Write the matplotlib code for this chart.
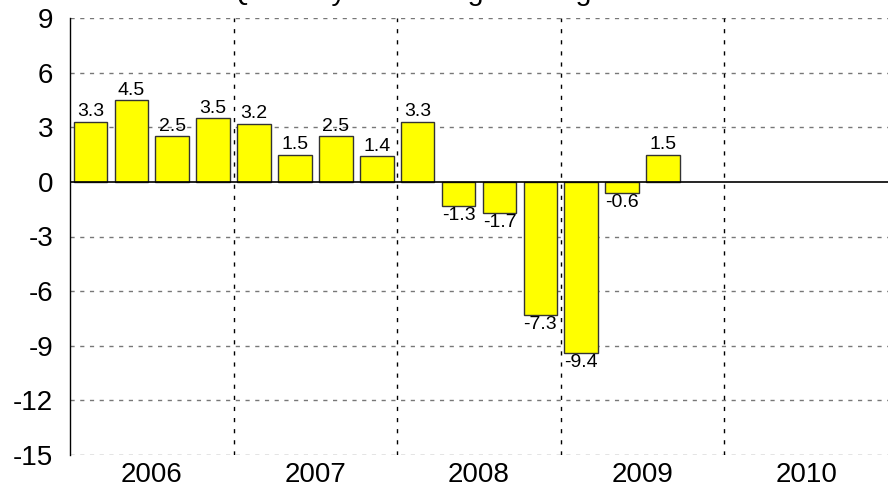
import matplotlib
matplotlib.use("Agg")
import matplotlib.pyplot as plt
import numpy as np

plt.rcParams['font.family'] = ['Liberation Sans', 'DejaVu Sans']

years = ["2006", "2007", "2008", "2009", "2010"]
values = [3.3, 4.5, 2.5, 3.5, 3.2, 1.5, 2.5, 1.4, 3.3, -1.3, -1.7, -7.3, -9.4, -0.6, 1.5]
labels = ["3.3", "4.5", "2.5", "3.5", "3.2", "1.5", "2.5", "1.4", "3.3",
          "-1.3", "-1.7", "-7.3", "-9.4", "-0.6", "1.5"]
yticks = [9, 6, 3, 0, -3, -6, -9, -12, -15]
title = "Annualized Quarterly Percentage Change"

fig = plt.figure(figsize=(8.88, 4.92), dpi=100)
ax = fig.add_axes([70/888, 1 - 455/492, 818/888, 437/492])

x = np.arange(len(values)) + 0.5
ax.bar(x, values, width=0.82, color='#ffff00', edgecolor='#333333', linewidth=1.0, zorder=3)

for xi, v, lab in zip(x, values, labels):
    if v >= 0:
        ax.annotate(lab, (xi, v), xytext=(0, 1), textcoords='offset points',
                    ha='center', va='bottom', fontsize=14, zorder=4)
    else:
        ax.annotate(lab, (xi, v), xytext=(0, -1), textcoords='offset points',
                    ha='center', va='top', fontsize=14, zorder=4)

ax.set_xlim(0, 20)
ax.set_ylim(-15, 9)
ax.set_yticks(yticks)
ax.set_yticklabels([str(t) for t in yticks], fontsize=20)
ax.set_xticks([2 + 4*i for i in range(len(years))])
ax.set_xticklabels(years, fontsize=20)
ax.tick_params(axis='x', length=0, pad=5)
ax.tick_params(axis='y', length=0, pad=12)

for t in yticks:
    if t != 0:
        ax.axhline(t, color='#777777', linestyle=(0, (3, 4)), linewidth=1.0, zorder=1)
for b in range(1, 5):
    ax.axvline(4*b, color='black', linestyle=(0, (3, 5)), linewidth=1.0, zorder=1)
ax.axhline(0, color='black', linewidth=1.2, zorder=4)

for s in ['top', 'right', 'bottom']:
    ax.spines[s].set_visible(False)
ax.spines['left'].set_linewidth(1.0)

fig.text(80/888, 1 - 0.5/492, title, fontsize=20.5, ha='left', va='baseline')

fig.savefig("out.png", dpi=100)
